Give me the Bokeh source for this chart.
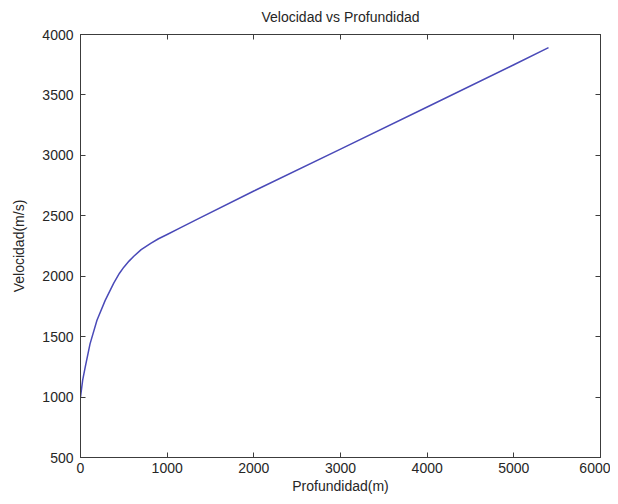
from bokeh.plotting import figure
from bokeh.models import LinearAxis, Range1d, FixedTicker, CustomLabelingPolicy
from bokeh.embed import file_html
from bokeh.resources import INLINE

# Data
profundidad = [0, 25, 55, 110, 190, 285, 385, 450, 500, 560, 615, 700, 810, 900, 1000,
               1150, 1350, 2000, 3000, 4000, 5000, 5400]
velocidad = [1000, 1140, 1250, 1440, 1635, 1800, 1945, 2025, 2075, 2125, 2165, 2220, 2272,
             2310, 2345, 2400, 2472, 2705, 3052, 3400, 3750, 3892]

x_ticks = [0, 1000, 2000, 3000, 4000, 5000, 6000]
y_ticks = [500, 1000, 1500, 2000, 2500, 3000, 3500, 4000]

FONT = "Liberation Sans"
TXT = "#262626"
AX = "#3c3c3c"

p = figure(width=610, height=496, output_backend="svg", toolbar_location=None,
           x_range=Range1d(0, 6000), y_range=Range1d(500, 4000),
           min_border_left=80, min_border_right=10, min_border_top=34, min_border_bottom=30,
           title="Velocidad vs Profundidad")
p.title.align = "center"
p.title.text_font = FONT
p.title.text_font_size = "14px"
p.title.text_font_style = "normal"
p.title.text_color = TXT
p.title.standoff = 12
p.xgrid.visible = False
p.ygrid.visible = False
p.outline_line_color = AX
p.outline_line_width = 1
p.background_fill_color = "white"
p.border_fill_color = "white"

p.line(profundidad, velocidad, line_color="#4a4ab8", line_width=1.5, line_join="round")

hide_labels = CustomLabelingPolicy(code="""
for (const i of indices) { indices.unset(i) }
return indices
""")

def style(ax, ticks, labels=True):
    ax.ticker = FixedTicker(ticks=ticks)
    ax.axis_line_color = AX
    ax.major_tick_line_color = AX
    ax.major_tick_in = 5
    ax.major_tick_out = 0
    ax.minor_tick_line_color = None
    ax.major_label_text_font = FONT
    ax.major_label_text_font_size = "14px"
    ax.major_label_text_color = TXT
    ax.axis_label_text_font = FONT
    ax.axis_label_text_font_size = "14px"
    ax.axis_label_text_font_style = "normal"
    ax.axis_label_text_color = TXT
    if not labels:
        ax.major_label_text_font_size = "1px"
        ax.major_label_standoff = 0
        ax.major_label_policy = hide_labels

style(p.xaxis[0], x_ticks)
style(p.yaxis[0], y_ticks)
p.xaxis[0].axis_label = "Profundidad(m)"
p.xaxis[0].major_label_standoff = 5
p.xaxis[0].axis_label_standoff = 2
p.yaxis[0].axis_label = "Velocidad(m/s)"
p.yaxis[0].major_label_standoff = 7
p.yaxis[0].axis_label_standoff = 12

top = LinearAxis()
style(top, x_ticks, labels=False)
p.add_layout(top, "above")
right = LinearAxis()
style(right, y_ticks, labels=False)
p.add_layout(right, "right")

open("out.html", "w").write(file_html(p, INLINE))
